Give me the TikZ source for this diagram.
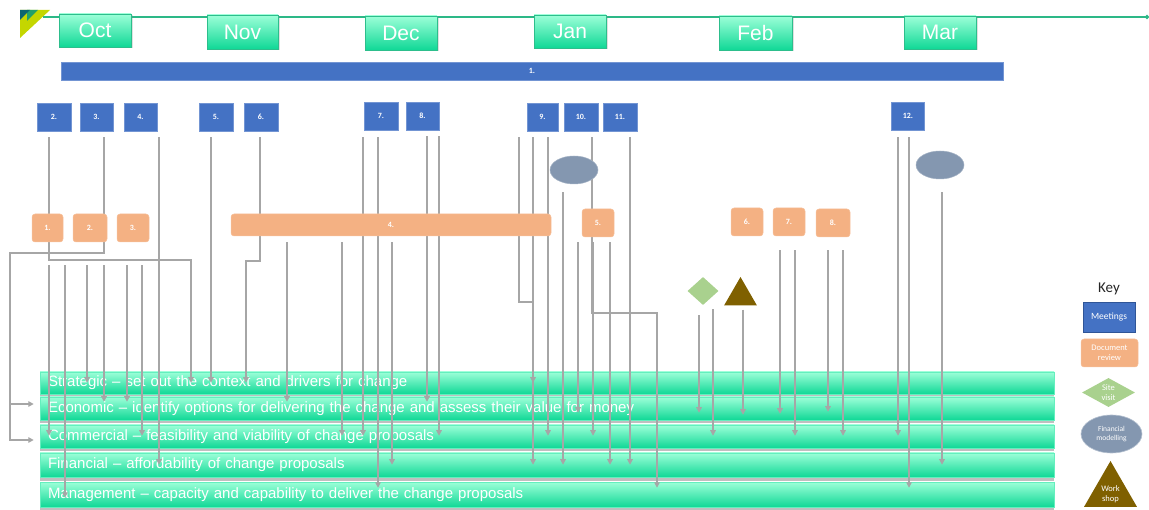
\documentclass[tikz,border=0pt]{standalone}
\usepackage{fontspec}
\setmainfont{Liberation Sans}
\newfontfamily\calib{Carlito}
\usetikzlibrary{arrows.meta,shapes.geometric,shadows,calc}
\definecolor{meet}{HTML}{4472C4}
\definecolor{meetd}{HTML}{2F5597}
\definecolor{docc}{HTML}{F4B183}
\definecolor{site}{HTML}{A9D18E}
\definecolor{finm}{HTML}{8497B0}
\definecolor{work}{HTML}{7F6000}
\definecolor{mintT}{HTML}{9CFFD8}
\definecolor{mintB}{HTML}{10D896}
\definecolor{mintD}{HTML}{2DBE8C}
\definecolor{tline}{HTML}{2DB887}
\definecolor{conc}{HTML}{A6A6A6}
\definecolor{lgY}{HTML}{C4D600}
\definecolor{lgT}{HTML}{0B6570}
\definecolor{lgG}{HTML}{22A06B}
\definecolor{keyc}{HTML}{262626}
\pgfdeclarelayer{bg}\pgfdeclarelayer{fg}\pgfsetlayers{bg,main,fg}
\newcommand\cn[5]{\draw[conn] ([yshift=-#3pt]#1.south -| #2,0) -- ([yshift=-#5pt]#2,0 |- #4.north);}
\begin{document}
\begin{tikzpicture}[x=1pt,y=-1pt,
  month/.style={rectangle, inner sep=0, minimum width=72, minimum height=33, top color=mintT, bottom color=mintB, draw=mintD, line width=0.6pt, text=white, font=\fontsize{21}{24}\selectfont, drop shadow={shadow xshift=1.5pt, shadow yshift=-1.5pt, opacity=0.25}},
  meetbox/.style={rectangle, inner sep=0, minimum width=33, minimum height=28, fill=meet, draw=meet!75!white, line width=0.5pt, text=white, font=\calib\bfseries\fontsize{8}{9}\selectfont},
  docbox/.style={rectangle, rounded corners=3, inner sep=0, minimum width=32, minimum height=28, fill=docc, draw=docc!80!white, line width=0.5pt, text=white, font=\calib\bfseries\fontsize{8}{9}\selectfont},
  fmod/.style={ellipse, inner sep=0, minimum width=48, minimum height=28, fill=finm, draw=finm!75!white, line width=0.5pt},
  rowbar/.style={rectangle, inner ysep=0, inner xsep=8, text width=998, align=left, top color=mintT, bottom color=mintB, draw=mintT!60!mintB, line width=0.5pt, text=white, font=\fontsize{15}{18}\selectfont, drop shadow={shadow xshift=0pt, shadow yshift=-3.5pt, opacity=0.5}},
  conn/.style={draw=conc, line width=1.2pt, -{Triangle[length=5.5pt,width=5.5pt]}},
  keytext/.style={text=white, align=center, inner sep=0}
]
\useasboundingbox (0,0) rectangle (1149,510);
\begin{pgfonlayer}{bg}
  \fill[lgY] (20,10) -- (50,10) -- (20,38) -- cycle;
  \fill[lgG] (27,10) -- (38,10) -- (27,21) -- cycle;
  \fill[lgT] (20,10) -- (30,10) -- (20,20) -- cycle;
  \coordinate (tl0) at (43,17);
  \coordinate (tl1) at (1149,17);
  \draw[tline, line width=1.6pt, -{Circle[length=4pt]}] (tl0) -- (tl1);
  \node[rowbar, minimum height=22] (str) at (547,383) {Strategic -- set out the context and drivers for change};
  \node[rowbar, minimum height=23] (eco) at (547,408.5) {Economic -- identify options for delivering the change and assess their value for money};
  \node[rowbar, minimum height=23] (com) at (547,436.5) {Commercial -- feasibility and viability of change proposals};
  \node[rowbar, minimum height=24] (fin) at (547,465) {Financial -- affordability of change proposals};
  \node[rowbar, minimum height=25] (man) at (547,494.5) {Management -- capacity and capability to deliver the change proposals};
\end{pgfonlayer}
\begin{pgfonlayer}{fg}
  \node[month] (oct) at (95,30.5) {Oct};
  \node[month, minimum width=71, minimum height=34] (nov) at (242.5,32) {Nov};
  \node[month, minimum height=34] (dec) at (401,33) {Dec};
  \node[month] (jan) at (570,31.5) {Jan};
  \node[month, minimum width=73, minimum height=34] (feb) at (755.5,33) {Feb};
  \node[month] (mar) at (940,32.5) {Mar};
  \node[meetbox, minimum width=942, minimum height=18] (m1) at (532,71) {1.};
  \node[meetbox, minimum width=34] (m2) at (54,117) {2.};
  \node[meetbox] (m3) at (96.5,117) {3.};
  \node[meetbox] (m4) at (140.5,117) {4.};
  \node[meetbox, minimum width=34] (m5) at (216,117) {5.};
  \node[meetbox, minimum width=34] (m6) at (261,117) {6.};
  \node[meetbox, minimum width=34] (m7) at (381,116) {7.};
  \node[meetbox] (m8) at (422.5,116) {8.};
  \node[meetbox, minimum width=31] (m9) at (542.5,117) {9.};
  \node[meetbox, minimum width=34] (m10) at (581,117) {10.};
  \node[meetbox, minimum width=34] (m11) at (620,117) {11.};
  \node[meetbox] (m12) at (908,116) {12.};
  \node[fmod] (e1) at (574,170) {};
  \node[fmod] (e2) at (940,165) {};
  \node[docbox, minimum width=31] (d1) at (47.5,228) {1.};
  \node[docbox, minimum width=34] (d2) at (90,228) {2.};
  \node[docbox] (d3) at (133,228) {3.};
  \node[docbox, minimum width=320, minimum height=22] (d4) at (391,225) {4.};
  \node[docbox] (d5) at (598,223) {5.};
  \node[docbox] (d6) at (747,222) {6.};
  \node[docbox] (d7) at (789,222) {7.};
  \node[docbox, minimum width=34] (d8) at (833,223) {8.};
  \node[diamond, inner sep=0, minimum width=31, minimum height=28, fill=site] (sv) at (703,291) {};
  \node[regular polygon, regular polygon sides=3, inner sep=0, minimum size=38, fill=work] (ws) at (740.5,296) {};
  % key
  \node[text=keyc, font=\calib\fontsize{15}{18}\selectfont, inner sep=0] (key) at (1109,289) {Key};
  \node[meetbox, minimum width=52, minimum height=30, draw=meetd, line width=0.8pt, font=\calib\fontsize{9.5}{10}\selectfont] (kmeet) at (1109,317) {Meetings};
  \node[docbox, minimum width=57, minimum height=28, align=center, font=\calib\fontsize{8.5}{9.5}\selectfont] (kdoc) at (1109.5,353) {Document\\review};
  \node[diamond, inner sep=0, minimum width=53, minimum height=29, fill=site] (ksite) at (1108.5,392.5) {};
  \node[keytext, font=\calib\fontsize{8.5}{10}\selectfont] (ksitet) at (ksite) {Site\\visit};
  \node[ellipse, inner sep=0, minimum width=61, minimum height=38, fill=finm, draw=finm!60!white, line width=0.6pt, keytext, font=\calib\fontsize{7.5}{9.5}\selectfont] (kfin) at (1111.5,434) {Financial\\modelling};
  \node[regular polygon, regular polygon sides=3, inner sep=0, minimum size=61, fill=work] (kwork) at (1110.5,491.5) {};
  \node[keytext, font=\calib\fontsize{8.5}{10}\selectfont] (kworkt) at (1110.5,494) {Work\\shop};
\end{pgfonlayer}
% connectors
\draw[conn] ([yshift=-6pt]m2.south -| 49,0) -- (49,260) -- (191,260) -- ([yshift=-11pt]191,0 |- str.north);
\draw[conn] ([yshift=-6pt]m3.south -| 104,0) -- (104,253) -- (10,253) coordinate (j3) -- (10,440) -- ([xshift=-6pt]com.west |- 0,440);
\draw[conn] (j3 |- 0,404) -- ([xshift=-6pt]eco.west |- 0,404);
\draw[conn] ([yshift=-6pt]m6.south -| 260,0) -- (260,261) -- (246,261) -- ([yshift=-11pt]246,0 |- str.north);
\draw[conn] ([yshift=-6pt]m9.south -| 519,0) -- (519,302) -- (533,302) -- ([yshift=-11pt]533,0 |- str.north);
\draw[conn] ([yshift=-6pt]m10.south -| 592,0) -- (592,313) -- (657,313) -- ([yshift=-6pt]657,0 |- man.north);
\cn{m4}{159}{6}{fin}{12}
\cn{m5}{211}{6}{str}{11}
\cn{m7}{363}{7}{com}{11}
\cn{m7}{378}{7}{man}{6}
\cn{m8}{427}{6}{eco}{5}
\cn{m8}{439}{6}{com}{11}
\cn{m9}{533}{6}{fin}{12}
\cn{m9}{548}{6}{com}{11}
\cn{m11}{630}{6}{fin}{12}
\cn{m12}{898}{7}{com}{11}
\cn{m12}{909}{7}{man}{6}
\cn{e1}{563}{8}{fin}{12}
\cn{e2}{942}{13}{fin}{12}
\cn{d1}{49}{23}{com}{11}
\cn{d1}{65}{23}{man}{16}
\cn{d2}{87}{23}{str}{11}
\cn{d2}{104}{23}{eco}{5}
\cn{d3}{127}{23}{eco}{5}
\cn{d3}{142}{23}{com}{11}
\cn{d4}{287}{6}{eco}{5}
\cn{d4}{342}{6}{com}{11}
\cn{d4}{392}{6}{fin}{12}
\cn{d5}{578}{5}{eco}{16}
\cn{d5}{593}{5}{com}{11}
\cn{d5}{610}{5}{fin}{12}
\cn{sv}{699}{10}{eco}{16}
\cn{sv}{713}{4}{com}{11}
\cn{ws}{743}{4}{eco}{18}
\cn{d7}{780}{14}{eco}{17}
\cn{d7}{795}{14}{com}{11}
\cn{d8}{828}{13}{eco}{15}
\cn{d8}{843}{13}{com}{11}
\end{tikzpicture}
\end{document}
